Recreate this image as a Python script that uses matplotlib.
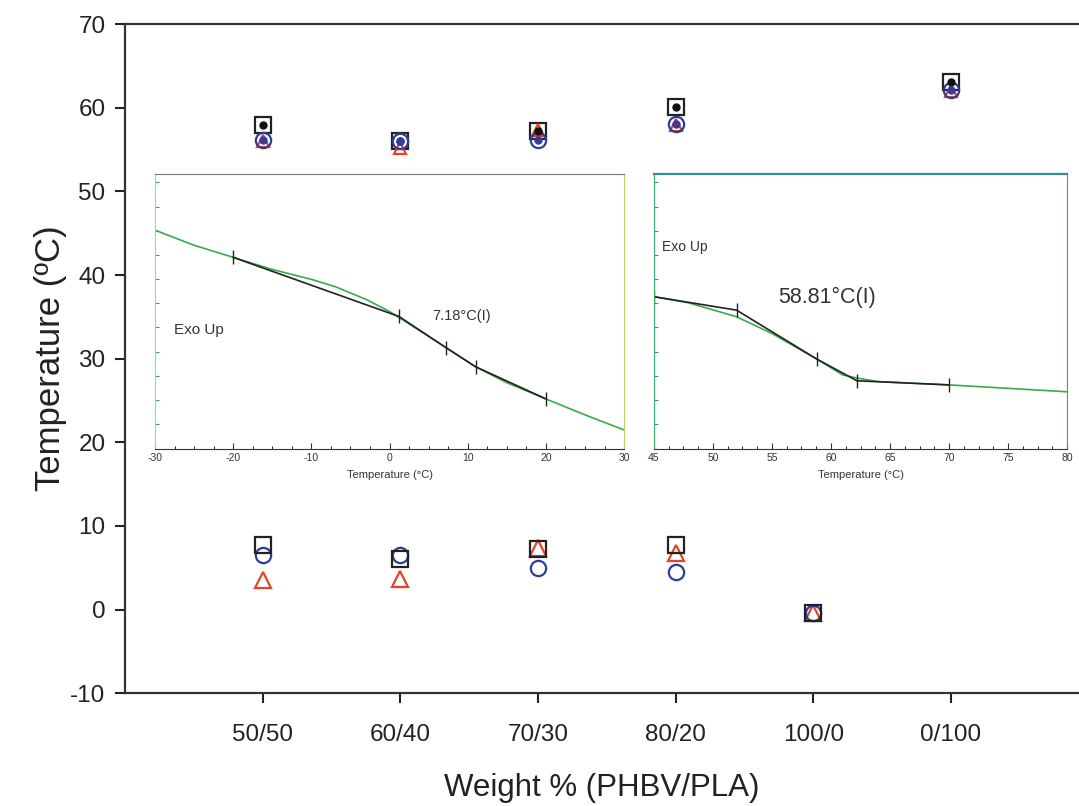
import matplotlib
matplotlib.use('Agg')
import matplotlib.pyplot as plt
import numpy as np
from matplotlib.ticker import MultipleLocator

plt.rcParams['font.family'] = ['Liberation Sans', 'DejaVu Sans']
plt.rcParams['axes.unicode_minus'] = False

# main chart data
blends = ['50/50', '60/40', '70/30', '80/20', '100/0', '0/100']
pos = np.arange(1, 7)

# upper group (PLA Tg) - NaN where absent
up_square = [58.0, 56.0, 57.2, 60.1, np.nan, 63.1]
up_circle = [56.1, 56.0, 56.1, 58.1, np.nan, 62.1]
up_triangle = [56.0, 55.2, 57.4, 58.0, np.nan, 62.0]
# lower group (PHBV Tg)
lo_square = [7.7, 6.0, 7.2, 7.7, -0.4, np.nan]
lo_circle = [6.5, 6.5, 5.0, 4.5, -0.4, np.nan]
lo_triangle = [3.5, 3.7, 7.4, 6.8, -0.4, np.nan]

# inset 1 DSC trace (-30..30 C)
t1_green = [-30, -25, -20, -15, -10, -7, -3, 0, 2, 5, 7.2, 11, 15, 20, 25, 30]
h1_green = [0.796, 0.741, 0.697, 0.653, 0.617, 0.591, 0.544, 0.50, 0.464, 0.409,
            0.369, 0.299, 0.241, 0.182, 0.124, 0.069]
t1_black = [-20, 1.2, 7.2, 11, 20]
h1_black = [0.697, 0.482, 0.369, 0.299, 0.182]

# inset 2 DSC trace (45..80 C)
t2_green = [45, 48, 52, 55, 58.8, 61, 62.2, 64, 70, 80]
h2_green = [0.554, 0.531, 0.481, 0.42, 0.327, 0.269, 0.258, 0.245, 0.233, 0.208]
t2_black = [45, 52, 58.8, 62.2, 70]
h2_black = [0.554, 0.505, 0.327, 0.248, 0.233]

fig = plt.figure(figsize=(10.79, 8.06), dpi=100)
ax = fig.add_axes([0.1158, 0.140, 0.8842, 0.830])

ms = 11
mew = 1.6
ax.plot(pos, up_square, 's', ms=ms, mfc='none', mec='#222222', mew=mew)
ax.plot(pos, up_triangle, '^', ms=8, mfc='none', mec='#e8432a', mew=mew)
ax.plot(pos, up_circle, 'o', ms=ms, mfc='none', mec='#2a3f9a', mew=mew)
ax.plot(pos, up_square, 'o', ms=5, color='#111111')
ax.plot(pos, up_circle, 'o', ms=5, color='#3a3a9a')
ax.plot(pos, lo_triangle, '^', ms=ms, mfc='none', mec='#e8432a', mew=mew)
ax.plot(pos, lo_circle, 'o', ms=ms, mfc='none', mec='#2a3f9a', mew=mew)
ax.plot(pos, lo_square, 's', ms=ms, mfc='none', mec='#222222', mew=mew)

ax.set_xlim(0, 6.93)
ax.set_ylim(-10, 70)
ax.set_xticks(pos)
ax.set_xticklabels(blends)
ax.yaxis.set_major_locator(MultipleLocator(10))
ax.tick_params(labelsize=17.5, colors='#222222', width=1.5, length=7, direction='out', pad=7)
ax.tick_params(axis='x', pad=15)
for s in ['left', 'bottom', 'top']:
    ax.spines[s].set_linewidth(1.6)
    ax.spines[s].set_color('#333333')
ax.spines['right'].set_visible(False)
ax.set_ylabel('Temperature (ºC)', fontsize=25, color='#222222', labelpad=2)
ax.set_xlabel('Weight % (PHBV/PLA)', fontsize=22.5, color='#222222', labelpad=20)

def style_inset(a, green_spine):
    a.set_ylim(0, 1)
    a.set_yticks(np.arange(0.09, 1.0, 0.088))
    a.set_yticklabels([])
    a.tick_params(axis='y', length=3, color='#3aa05a', direction='in')
    a.tick_params(axis='x', labelsize=7.5, length=4, pad=3, direction='in', colors='#333333')
    a.tick_params(axis='x', which='minor', length=2.5, direction='in')
    a.spines['left'].set_color(green_spine)
    a.spines['bottom'].set_color('#333333')
    a.spines['top'].set_color('#777777')
    a.spines['right'].set_color(green_spine)
    a.set_xlabel('Temperature (°C)', fontsize=8, labelpad=5, color='#333333')

# inset 1
ins1 = fig.add_axes([0.1437, 0.443, 0.4347, 0.341])
ins1.plot(t1_green, h1_green, color='#3aaa4a', lw=1.2)
ins1.plot(t1_black, h1_black, color='#222222', lw=1.2, marker='|', ms=10, mew=1)
ins1.set_xlim(-30, 30)
ins1.xaxis.set_major_locator(MultipleLocator(10))
ins1.xaxis.set_minor_locator(MultipleLocator(2.5))
style_inset(ins1, '#b8d860')
ins1.text(0.04, 0.42, 'Exo Up', transform=ins1.transAxes, fontsize=11, color='#333333')
ins1.text(0.59, 0.47, '7.18°C(I)', transform=ins1.transAxes, fontsize=10.5, color='#333333')

# inset 2
ins2 = fig.add_axes([0.606, 0.443, 0.383, 0.341])
ins2.plot(t2_green, h2_green, color='#3aaa4a', lw=1.2)
ins2.plot(t2_black, h2_black, color='#222222', lw=1.2, marker='|', ms=10, mew=1)
ins2.set_xlim(45, 80)
ins2.xaxis.set_major_locator(MultipleLocator(5))
ins2.xaxis.set_minor_locator(MultipleLocator(1.25))
style_inset(ins2, '#3aaa6a')
ins2.spines['top'].set_color('#3a8a8a')
ins2.spines['top'].set_linewidth(1.6)
ins2.text(0.02, 0.72, 'Exo Up', transform=ins2.transAxes, fontsize=10, color='#333333')
ins2.text(0.30, 0.53, '58.81°C(I)', transform=ins2.transAxes, fontsize=15.5, color='#333333')

fig.savefig('out.png', dpi=100)
